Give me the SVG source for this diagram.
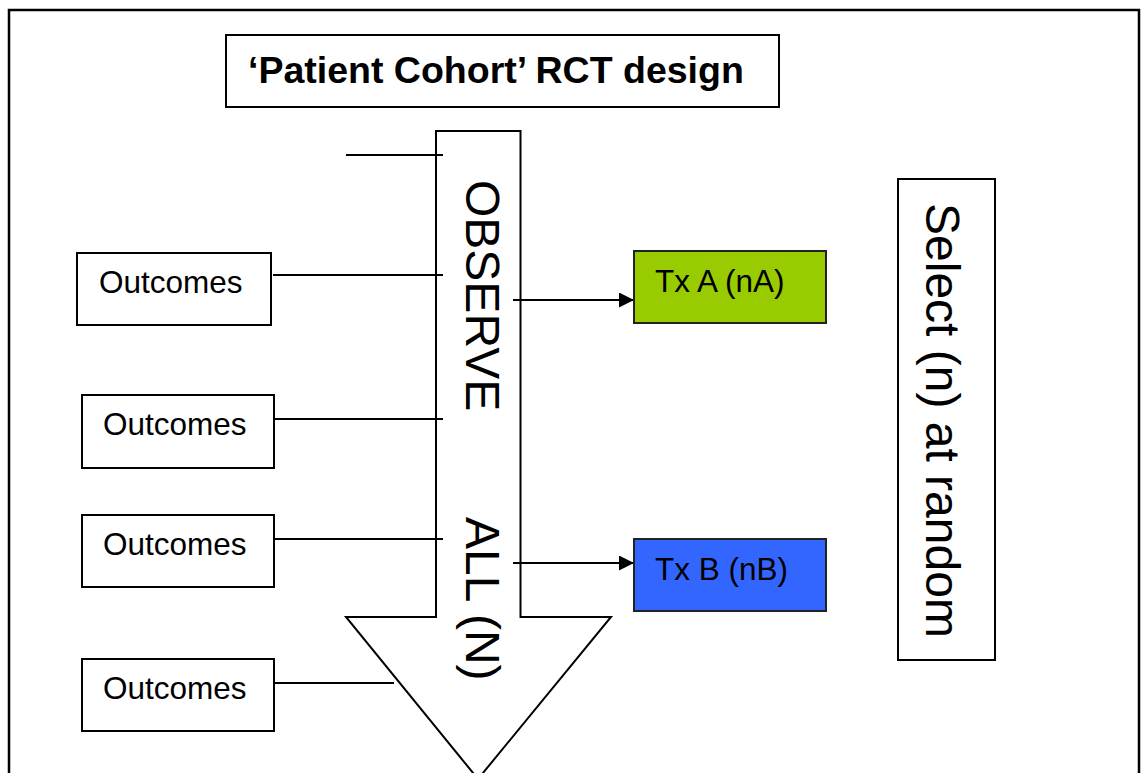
<svg xmlns="http://www.w3.org/2000/svg" width="1141" height="773" viewBox="0 0 1141 773">
<style>
.box{fill:#fff;stroke:#000;stroke-width:2}
.ln{stroke:#000;stroke-width:2;fill:none}
.t{font-family:"Liberation Sans",Arial,sans-serif;fill:#000}
.oc{font-size:31.5px}
.big{font-size:48px}
</style>
<defs>
<marker id="ah" markerUnits="userSpaceOnUse" markerWidth="16" markerHeight="16" refX="15" refY="7.5" orient="auto">
<path d="M0,0 L15,7.5 L0,15 Z" fill="#000"/>
</marker>
</defs>
<rect x="9" y="10" width="1130" height="800" fill="#fff" stroke="#000" stroke-width="2.5"/>
<g id="title">
<rect class="box" x="226" y="35" width="553" height="72"/>
<text class="t" x="248" y="83" font-size="37.5" font-weight="bold">‘Patient Cohort’ RCT design</text>
</g>
<g id="cohort-arrow">
<polygon class="box" points="436,131 520.5,131 520.5,617 611,617 478,779 346,617 436,617"/>
<text class="t big" transform="translate(466,180) rotate(90)">OBSERVE</text>
<text class="t big" transform="translate(466,517) rotate(90)">ALL (N)</text>
</g>
<g id="connectors">
<line class="ln" x1="346" y1="155" x2="443" y2="155"/>
<line class="ln" x1="273" y1="275" x2="443" y2="275"/>
<line class="ln" x1="274" y1="419" x2="443" y2="419"/>
<line class="ln" x1="274" y1="539" x2="443" y2="539"/>
<line class="ln" x1="274" y1="683" x2="394" y2="683"/>
<line class="ln" x1="513" y1="300" x2="634" y2="300" marker-end="url(#ah)"/>
<line class="ln" x1="513" y1="563" x2="634" y2="563" marker-end="url(#ah)"/>
</g>
<g id="outcomes1">
<rect class="box" x="77" y="253" width="194" height="72"/>
<text class="t oc" x="99" y="293">Outcomes</text>
</g>
<g id="outcomes2">
<rect class="box" x="82" y="395" width="192" height="73"/>
<text class="t oc" x="103" y="435">Outcomes</text>
</g>
<g id="outcomes3">
<rect class="box" x="82" y="515" width="192" height="72"/>
<text class="t oc" x="103" y="555">Outcomes</text>
</g>
<g id="outcomes4">
<rect class="box" x="82" y="659" width="192" height="72"/>
<text class="t oc" x="103" y="699">Outcomes</text>
</g>
<g id="txA">
<rect x="634" y="251" width="192" height="72" fill="#99CC00" stroke="#222" stroke-width="2"/>
<text class="t oc" x="655" y="292">Tx A (nA)</text>
</g>
<g id="txB">
<rect x="634" y="539" width="192" height="72" fill="#3366FF" stroke="#222" stroke-width="2"/>
<text class="t oc" x="655" y="580">Tx B (nB)</text>
</g>
<g id="select">
<rect class="box" x="898" y="179" width="97" height="481"/>
<text class="t big" transform="translate(926,203) rotate(90)">Select (n) at random</text>
</g>
</svg>
